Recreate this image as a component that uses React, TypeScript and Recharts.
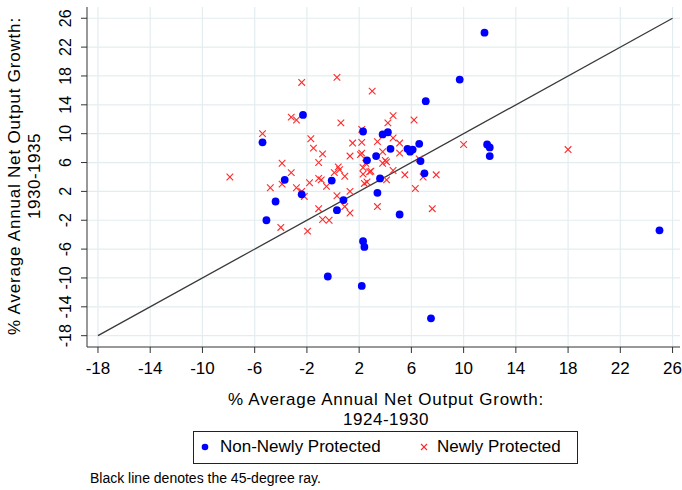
import { ScatterChart, Scatter, XAxis, YAxis, CartesianGrid, ReferenceLine, Label } from 'recharts'

const FONT = '"Liberation Sans", Arial, sans-serif'

// tick values shared by both axes
const TICKS = [-18, -14, -10, -6, -2, 2, 6, 10, 14, 18, 22, 26]
const X_DOMAIN = [-18.84, 26.57]
const Y_DOMAIN = [-19.57, 27.56]

// growth 1924-1930 (x) vs growth 1930-1935 (y)
const nonNewlyProtected = [
  [11.6, 24.0], [9.7, 17.5], [7.1, 14.5], [-2.3, 12.6], [2.3, 10.3], [3.8, 9.9],
  [4.2, 10.2], [-5.4, 8.8], [4.4, 7.9], [5.7, 7.9], [5.9, 7.5], [6.1, 7.8],
  [6.6, 8.6], [3.3, 6.9], [2.6, 6.3], [6.7, 6.2], [7.0, 4.5], [3.6, 3.8],
  [-0.1, 3.5], [-3.7, 3.6], [3.4, 1.8], [-2.4, 1.6], [0.8, 0.8], [-4.4, 0.6],
  [0.3, -0.6], [5.1, -1.2], [-5.1, -2.0], [11.8, 8.5], [12.0, 8.1], [12.0, 6.9],
  [25.0, -3.4], [2.3, -4.9], [2.4, -5.7], [-0.4, -9.8], [2.2, -11.1], [7.5, -15.6],
]

const newlyProtected = [
  [-7.9, 4.0], [-5.4, 10.0], [-4.8, 2.5], [-3.9, 5.9], [-3.9, 3.0], [-4.0, -3.0],
  [-3.2, 12.3], [-2.8, 11.9], [-3.2, 4.6], [-2.8, 2.5], [-2.4, 17.1], [-2.2, 1.3],
  [-1.7, 9.3], [-1.5, 8.0], [-1.8, 3.2], [-1.95, -3.5], [-0.8, 7.2], [-1.1, 6.0],
  [-1.1, 3.8], [-0.9, 3.6], [-1.1, -0.4], [-0.8, -1.9], [-0.3, -2.0], [0.3, 17.8],
  [0.6, 11.5], [0.4, 5.4], [0.1, 4.6], [0.5, 5.0], [-0.5, 2.7], [0.3, 1.4],
  [0.9, 4.1], [0.9, -0.1], [1.3, -1.0], [1.3, 6.9], [1.5, 8.7], [1.3, 2.0],
  [2.2, 10.6], [2.2, 8.8], [2.2, 7.3], [2.1, 7.1], [2.3, 4.4], [2.4, 3.1],
  [2.6, 3.3], [2.5, 5.9], [2.8, 4.7], [2.9, 4.8], [3.0, 15.9], [3.4, 8.9],
  [3.4, -0.1], [3.8, 7.5], [3.8, 5.9], [4.0, 6.3], [4.1, 3.6], [4.2, 11.5],
  [4.6, 12.5], [4.6, 9.4], [4.6, 4.9], [5.1, 8.7], [5.1, 7.3], [5.5, 4.3],
  [6.2, 11.9], [6.3, 2.4], [6.6, 6.5], [6.9, 4.0], [7.9, 4.3], [7.6, -0.4],
  [10.0, 8.5], [18.0, 7.8], [2.3, 5.3], [4.1, 6.1], [-2.4, 2.0],
]

// 45-degree ray endpoints
const ray = [{ x: -18, y: -18 }, { x: 26, y: 26 }]

const toPoints = (rows: number[][]) => rows.map(([x, y]) => ({ x, y }))

const Dot = (props: any) => <circle cx={props.cx} cy={props.cy} r={3.9} fill="#0000ff" />

const Cross = (props: any) => {
  const { cx, cy } = props
  const s = 3.3
  return (
    <g stroke="#ff2a2a" strokeWidth={1.1}>
      <line x1={cx - s} y1={cy - s} x2={cx + s} y2={cy + s} />
      <line x1={cx - s} y1={cy + s} x2={cx + s} y2={cy - s} />
    </g>
  )
}

const XTick = ({ x, payload }: any) => (
  <text x={x} y={368} textAnchor="middle" dominantBaseline="central" fontSize={17} fontFamily={FONT} fill="#000">
    {payload.value}
  </text>
)

const YTick = ({ y, payload }: any) => (
  <text
    x={66}
    y={y}
    transform={`rotate(-90 66 ${y})`}
    textAnchor="middle"
    dominantBaseline="central"
    fontSize={16}
    fontFamily={FONT}
    fill="#000"
  >
    {payload.value}
  </text>
)

const XTitle = () => (
  <g fontFamily={FONT} fontSize={17} fill="#000" textAnchor="middle">
    <text x={386} y={399} dominantBaseline="central" letterSpacing={0.75}>% Average Annual Net Output Growth:</text>
    <text x={386} y={419} dominantBaseline="central" letterSpacing={0.5}>1924-1930</text>
  </g>
)

const YTitle = () => (
  <g fontFamily={FONT} fontSize={17} fill="#000" textAnchor="middle">
    <text x={14} y={176} transform="rotate(-90 14 176)" dominantBaseline="central" letterSpacing={0.8}>
      % Average Annual Net Output Growth:
    </text>
    <text x={34} y={176} transform="rotate(-90 34 176)" dominantBaseline="central" letterSpacing={0.5}>1930-1935</text>
  </g>
)

export default function App() {
  return (
    <div style={{ position: 'absolute', left: 0, top: 0, width: 682, height: 490, background: '#fff', fontFamily: FONT }}>
      <ScatterChart width={682} height={490} margin={{ top: 7, right: 2, bottom: 0, left: 0 }}>
        <CartesianGrid stroke="#e3edef" strokeWidth={1.2} horizontalValues={TICKS} verticalValues={TICKS} />
        <XAxis
          type="number"
          dataKey="x"
          domain={X_DOMAIN}
          ticks={TICKS}
          allowDataOverflow
          height={143}
          stroke="#333"
          tickSize={6}
          tick={<XTick />}
          label={<Label content={<XTitle />} />}
        />
        <YAxis
          type="number"
          dataKey="y"
          domain={Y_DOMAIN}
          ticks={TICKS}
          allowDataOverflow
          width={87}
          stroke="#333"
          tickSize={6}
          tick={<YTick />}
          label={<Label content={<YTitle />} />}
        />
        <ReferenceLine segment={ray} stroke="#3a3a3a" strokeWidth={1.3} ifOverflow="visible" />
        <Scatter name="Newly Protected" data={toPoints(newlyProtected)} shape={<Cross />} isAnimationActive={false} />
        <Scatter name="Non-Newly Protected" data={toPoints(nonNewlyProtected)} shape={<Dot />} isAnimationActive={false} />
      </ScatterChart>

      <div
        style={{
          position: 'absolute',
          left: 193,
          top: 431,
          width: 383,
          height: 31,
          border: '1.5px solid #222',
          fontSize: 17,
          color: '#000',
        }}
      >
        <svg width={12} height={12} style={{ position: 'absolute', left: 5, top: 9 }}>
          <circle cx={6} cy={6} r={3.3} fill="#0000ff" />
        </svg>
        <span style={{ position: 'absolute', left: 26, top: 5, whiteSpace: 'nowrap' }}>Non-Newly Protected</span>
        <svg width={12} height={12} style={{ position: 'absolute', left: 224, top: 9 }}>
          <g stroke="#ff2a2a" strokeWidth={1.1}>
            <line x1={3} y1={3} x2={9} y2={9} />
            <line x1={3} y1={9} x2={9} y2={3} />
          </g>
        </svg>
        <span style={{ position: 'absolute', left: 243, top: 5, whiteSpace: 'nowrap' }}>Newly Protected</span>
      </div>

      <div style={{ position: 'absolute', left: 90, top: 470, fontSize: 14, color: '#000', whiteSpace: 'nowrap' }}>
        Black line denotes the 45-degree ray.
      </div>
    </div>
  )
}
